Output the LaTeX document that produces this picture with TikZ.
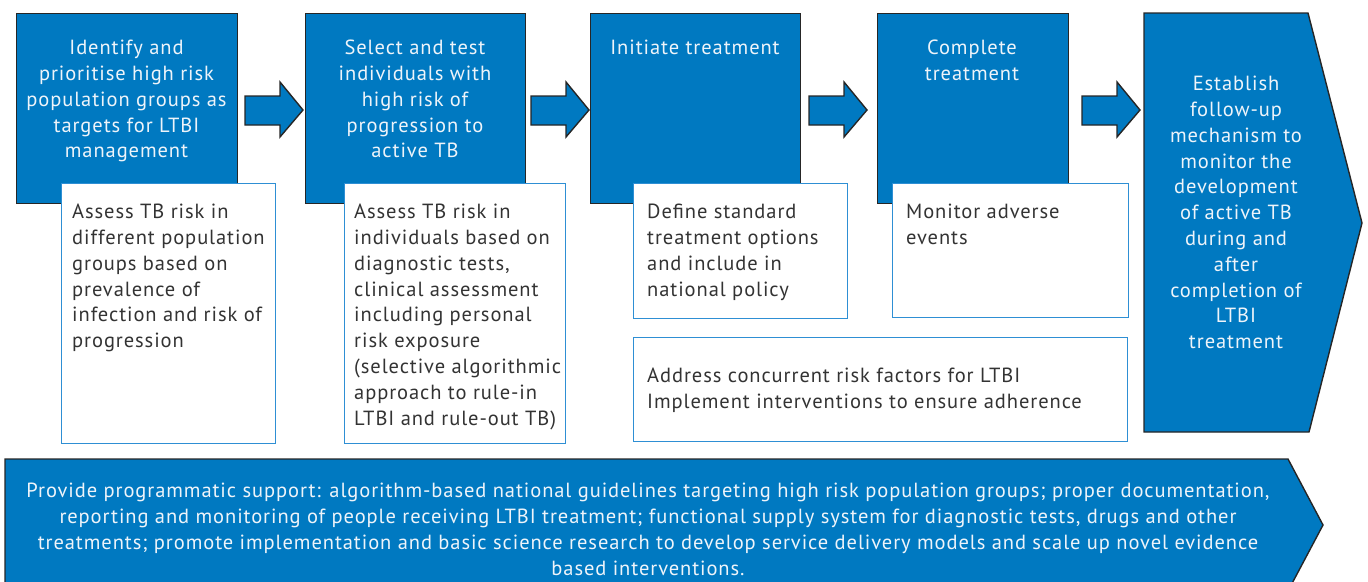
\documentclass[tikz,border=0pt]{standalone}
\usepackage{fontspec}
\setmainfont{PT Sans}[LetterSpace=4.5]
\definecolor{blu}{HTML}{0079C1}
\definecolor{edgec}{HTML}{262626}
\definecolor{wedge}{HTML}{2E8FD4}
\definecolor{txt}{HTML}{333333}
\definecolor{wtxt}{HTML}{EEF4FA}
\begin{document}
\begin{tikzpicture}[x=1pt,y=-1pt,
  bluebox/.style={draw=edgec,fill=blu,line width=1.4pt,inner sep=0,anchor=north west},
  whitebox/.style={draw=wedge,fill=white,line width=1.3pt,inner sep=0,anchor=north west},
  barrow/.style={draw=edgec,fill=blu,line width=1.4pt,line join=miter},
  ttext/.style={text=wtxt,font=\fontsize{20.5}{25.8}\selectfont,align=center,inner sep=0,anchor=north},
  wtext/.style={text=txt,font=\fontsize{20.5}{25.8}\selectfont,align=left,inner sep=0,anchor=north west}]
\useasboundingbox (0,0) rectangle (1368,581);
% blue step boxes
\node[bluebox,minimum width=221pt,minimum height=190pt] (b1) at (16,13) {};
\node[bluebox,minimum width=220pt,minimum height=190pt] (b2) at (305,13) {};
\node[bluebox,minimum width=210pt,minimum height=190pt] (b3) at (590,13) {};
\node[bluebox,minimum width=191pt,minimum height=190pt] (b4) at (877,13) {};
% final pentagon
\draw[barrow] (1144,13) -- (1308,13) -- (1362,223) -- (1309,432) -- (1144,432) -- cycle;
% bottom banner
\draw[barrow] (5,459) -- (1288,459) -- (1323,525) -- (1288,591) -- (5,591) -- cycle;
% block arrows
\foreach \x in {245,531,809,1082}{
  \draw[barrow] (\x,96) -- (\x+35,96) -- (\x+35,82) -- (\x+58,110) -- (\x+35,137) -- (\x+35,125) -- (\x,125) -- cycle;
}
% white boxes
\node[whitebox,minimum width=214pt,minimum height=260pt] (w1) at (61,183) {};
\node[whitebox,minimum width=221pt,minimum height=260pt] (w2) at (344,183) {};
\node[whitebox,minimum width=214pt,minimum height=135pt] (w3) at (633,183) {};
\node[whitebox,minimum width=236pt,minimum height=134pt] (w4) at (892,183) {};
\node[whitebox,minimum width=494pt,minimum height=104pt] (w5) at (633,337) {};
% titles
\node[ttext] (t1) at (126.5,40) {Identify and\\prioritise high risk\\population groups as\\targets for LTBI\\management};
\node[ttext] (t2) at (415,40) {Select and test\\individuals with\\high risk of\\progression to\\active TB};
\node[ttext] (t3) at (695,40) {Initiate treatment};
\node[ttext] (t4) at (972,40) {Complete\\treatment};
\node[ttext] (t5) at (1236,76) {Establish\\follow-up\\mechanism to\\monitor the\\development\\of active TB\\during and\\after\\completion of\\LTBI\\treatment};
% white box texts
\node[wtext] (d1) at (72,204) {Assess TB risk in\\different population\\groups based on\\prevalence of\\infection and risk of\\progression};
\node[wtext] (d2) at (354,204) {Assess TB risk in\\individuals based on\\diagnostic tests,\\clinical assessment\\including personal\\risk exposure\\(selective algorithmic\\approach to rule-in\\LTBI and rule-out TB)};
\node[wtext] (d3) at (647,204) {Define standard\\treatment options\\and include in\\national policy};
\node[wtext] (d4) at (906,204) {Monitor adverse\\events};
\node[wtext] (d5) at (647,368) {Address concurrent risk factors for LTBI\\Implement interventions to ensure adherence};
% banner text
\node[ttext] (bt) at (648,483) {Provide programmatic support: algorithm-based national guidelines targeting high risk population groups; proper documentation,\\reporting and monitoring of people receiving LTBI treatment; functional supply system for diagnostic tests, drugs and other\\treatments; promote implementation and basic science research to develop service delivery models and scale up novel evidence\\based interventions.};
\end{tikzpicture}
\end{document}
